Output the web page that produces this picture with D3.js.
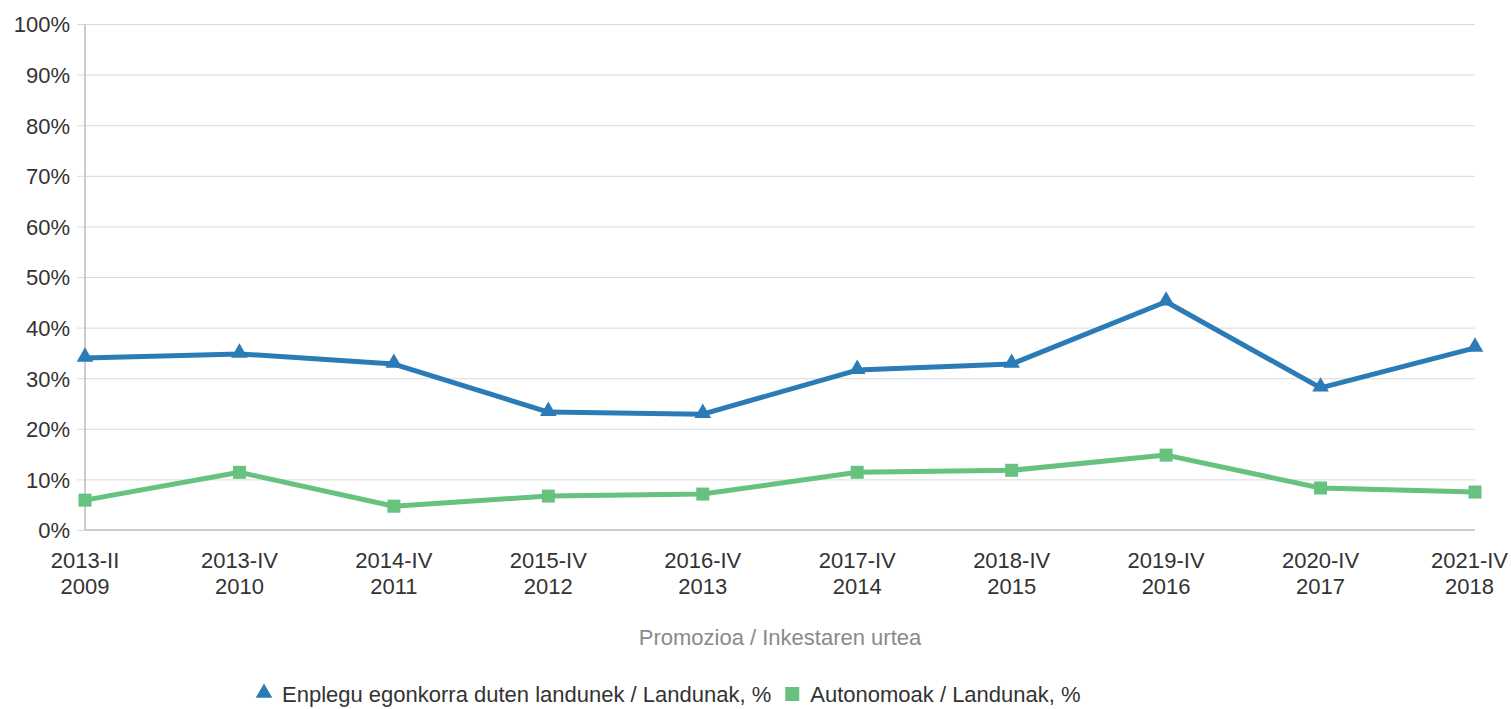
<!DOCTYPE html>
<html>
<head>
<meta charset="utf-8">
<script src="https://cdn.jsdelivr.net/npm/d3@7"></script>
<style>
  body { margin: 0; background: #fff; }
  text { font-family: "Liberation Sans", Arial, sans-serif; }
</style>
</head>
<body>
<div id="chart"></div>
<script>
// chart data
var promotions = ["2013-II", "2013-IV", "2014-IV", "2015-IV", "2016-IV", "2017-IV", "2018-IV", "2019-IV", "2020-IV", "2021-IV"];
var surveyYears = ["2009", "2010", "2011", "2012", "2013", "2014", "2015", "2016", "2017", "2018"];
var stableJobs = [34.0, 34.8, 32.8, 23.3, 22.9, 31.6, 32.8, 45.1, 28.1, 36.0];
var selfEmployed = [5.9, 11.4, 4.7, 6.7, 7.1, 11.4, 11.8, 14.8, 8.3, 7.5];
var yTicks = [0, 10, 20, 30, 40, 50, 60, 70, 80, 90, 100];
var seriesNames = ["Enplegu egonkorra duten landunek / Landunak, %", "Autonomoak / Landunak, %"];
var seriesColors = ["#2a7bb6", "#67c17f"];

var svgWidth = 1511;
var svgHeight = 709;

var margin = { top: 24, right: 36, bottom: 179, left: 85 };
var width = svgWidth - margin.left - margin.right;
var height = svgHeight - margin.top - margin.bottom;

var fontSize = "22px";

var svg = d3.select("#chart")
    .append("svg")
    .attr("width", svgWidth)
    .attr("height", svgHeight);

var chartGroup = svg.append("g")
    .attr("transform", `translate(${margin.left}, ${margin.top})`);

var xScale = d3.scalePoint()
    .domain(promotions)
    .range([0, width]);

var yScale = d3.scaleLinear()
    .domain([0, 100])
    .range([height, 0]);

//gridlines + y labels
var leftAxis = d3.axisLeft(yScale)
    .tickValues(yTicks)
    .tickSize(-width)
    .tickPadding(15)
    .tickFormat(d => d + "%");

var yAxis = chartGroup.append("g").call(leftAxis);
yAxis.select(".domain").remove();
yAxis.selectAll("line")
    .attr("x1", -8)
    .attr("stroke", "#d9d9d9")
    .attr("stroke-width", 1);
yAxis.selectAll("text")
    .attr("fill", "#333")
    .attr("dy", "0.36em")
    .style("font-size", fontSize);

//axis lines
chartGroup.append("line")
    .attr("x1", 0).attr("x2", 0)
    .attr("y1", 0).attr("y2", height)
    .attr("stroke", "#cccccc")
    .attr("stroke-width", 2);
chartGroup.append("line")
    .attr("x1", 0).attr("x2", width)
    .attr("y1", height).attr("y2", height)
    .attr("stroke", "#cccccc")
    .attr("stroke-width", 2);

//x labels on two rows
var xLabels = chartGroup.append("g")
    .attr("transform", `translate(0, ${height})`)
    .selectAll("text")
    .data(promotions)
    .enter()
    .append("text")
    .attr("text-anchor", "middle")
    .attr("fill", "#333")
    .style("font-size", fontSize);

xLabels.append("tspan")
    .attr("class", "row1")
    .attr("y", 38)
    .text(d => d);
xLabels.append("tspan")
    .attr("class", "row2")
    .attr("y", 64)
    .text((d, i) => surveyYears[i]);

//keep labels inside the svg (shift the last one left, like the original)
xLabels.each(function(d) {
    var t = d3.select(this);
    var cx = xScale(d);
    var w = t.select(".row1").node().getComputedTextLength();
    var maxRight = svgWidth - margin.left - 3;
    var shift = Math.max(0, cx + w / 2 - maxRight);
    t.selectAll("tspan").attr("x", cx - shift);
});

//x axis title
chartGroup.append("text")
    .attr("x", width / 2)
    .attr("y", height + 115)
    .attr("text-anchor", "middle")
    .attr("fill", "#8a8a8a")
    .style("font-size", fontSize)
    .text("Promozioa / Inkestaren urtea");

//lines
var line = d3.line()
    .x((d, i) => xScale(promotions[i]))
    .y(d => yScale(d));

var allSeries = [stableJobs, selfEmployed];

allSeries.forEach(function(values, s) {
    chartGroup.append("path")
        .datum(values)
        .attr("fill", "none")
        .attr("stroke", seriesColors[s])
        .attr("stroke-width", 5)
        .attr("stroke-linejoin", "round")
        .attr("d", line);
});

//markers
var triangle = d3.symbol().type(d3.symbolTriangle).size(120);
chartGroup.selectAll(".tri")
    .data(stableJobs)
    .enter()
    .append("path")
    .attr("class", "tri")
    .attr("d", triangle)
    .attr("fill", seriesColors[0])
    .attr("transform", (d, i) => `translate(${xScale(promotions[i])}, ${yScale(d) - 1})`);

chartGroup.selectAll(".sq")
    .data(selfEmployed)
    .enter()
    .append("rect")
    .attr("class", "sq")
    .attr("x", (d, i) => xScale(promotions[i]) - 6.5)
    .attr("y", d => yScale(d) - 6.5)
    .attr("width", 13)
    .attr("height", 13)
    .attr("fill", seriesColors[1]);

//legend
var legend = svg.append("g")
    .attr("transform", "translate(256, 694)");

var legendItem = legend.selectAll("g")
    .data(seriesNames)
    .enter()
    .append("g");

legendItem.append("text")
    .attr("x", 0)
    .attr("y", 8)
    .attr("fill", "#333")
    .style("font-size", fontSize)
    .text(d => d);

var offset = 0;
legendItem.each(function(d, i) {
    var g = d3.select(this);
    g.attr("transform", `translate(${offset}, 0)`);
    if (i === 0) {
        g.append("path")
            .attr("d", triangle)
            .attr("fill", seriesColors[0])
            .attr("transform", "translate(8, -1)");
    } else {
        g.append("rect")
            .attr("x", 1).attr("y", -7)
            .attr("width", 14).attr("height", 14)
            .attr("fill", seriesColors[1]);
    }
    g.select("text").attr("x", 26);
    offset += 26 + g.select("text").node().getComputedTextLength() + 13;
});
</script>
</body>
</html>
